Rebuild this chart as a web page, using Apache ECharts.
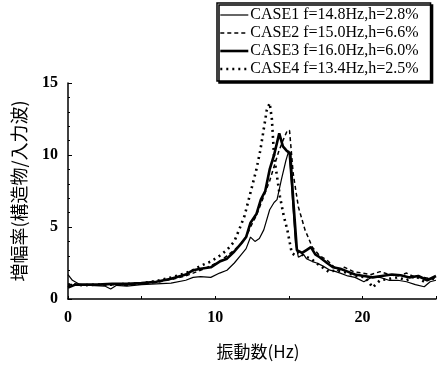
<!DOCTYPE html>
<html>
<head>
<meta charset="utf-8">
<script src="https://cdn.jsdelivr.net/npm/echarts@6/dist/echarts.min.js"></script>
<style>
  html, body { margin: 0; padding: 0; background: #fff; }
  #chart { width: 440px; height: 365px; }
</style>
</head>
<body>
<div id="chart"></div>
<script>
// 凡例
const caseNames = [
  'CASE1 f=14.8Hz,h=2.8%',
  'CASE2 f=15.0Hz,h=6.6%',
  'CASE3 f=16.0Hz,h=6.0%',
  'CASE4 f=13.4Hz,h=2.5%'
];

// 目盛
const xTickLabels = [0, 10, 20];

// CASE1 (細実線)
const case1Freq = [0, 0.3, 0.8, 1.5, 2.5, 2.9, 3.3, 4, 5, 6, 7, 8, 8.5, 9, 9.7, 10.3, 10.8, 11.3, 11.7, 12.1, 12.4, 12.7, 13.0, 13.3, 13.7, 14.0, 14.2, 14.5, 14.8, 15.0, 15.2, 15.45, 15.65, 16.0, 16.2, 16.6, 16.9, 17.3, 17.8, 18.2, 18.5, 19.0, 19.5, 20.1, 20.6, 21.2, 21.8, 22.4, 23.0, 23.6, 24.2, 24.6, 25];
const case1Amp = [1.7, 1.3, 1.0, 0.95, 0.9, 0.7, 0.95, 0.9, 1.0, 1.05, 1.1, 1.3, 1.5, 1.55, 1.5, 1.8, 2.0, 2.5, 3.0, 3.5, 4.3, 4.0, 4.2, 4.8, 6.2, 6.7, 6.9, 8.3, 9.6, 10.3, 7.6, 3.9, 2.9, 3.1, 2.8, 2.6, 2.5, 2.3, 2.0, 1.9, 1.8, 1.6, 1.5, 1.2, 1.5, 1.5, 1.3, 1.3, 1.2, 1.0, 0.85, 1.2, 1.3];

// CASE2 (破線)
const case2Freq = [0, 0.5, 1, 2, 3, 4, 5, 6, 7, 8, 8.5, 9, 9.7, 10.3, 10.8, 11.3, 11.7, 12.1, 12.4, 12.8, 13.1, 13.4, 13.7, 14.0, 14.3, 14.6, 14.9, 15.05, 15.3, 15.65, 16.1, 16.6, 17.1, 17.6, 18.3, 18.8, 19.4, 20, 20.6, 21.2, 21.8, 22.4, 23, 23.6, 24.2, 24.6, 25];
const case2Amp = [1.0, 1.0, 0.95, 0.95, 1.0, 0.95, 1.05, 1.15, 1.35, 1.6, 1.8, 2.0, 2.3, 2.6, 3.0, 3.4, 3.8, 4.3, 5.0, 5.8, 6.6, 7.4, 8.2, 9.2, 10.2, 11.0, 11.7, 11.7, 8.7, 6.4, 4.8, 3.6, 3.0, 2.7, 2.0, 2.2, 1.9, 1.8, 1.7, 1.9, 1.7, 1.6, 1.8, 1.5, 1.5, 1.4, 1.5];

// CASE3 (太実線)
const case3Freq = [0, 0.5, 1, 2, 3, 4, 5, 6, 7, 8, 8.5, 9, 9.7, 10.3, 10.8, 11.3, 11.8, 12.1, 12.4, 12.8, 13.1, 13.4, 13.7, 14.0, 14.35, 14.6, 14.85, 15.1, 15.3, 15.55, 15.9, 16.2, 16.5, 16.8, 17.1, 17.6, 18.0, 18.5, 19.0, 19.5, 20.1, 20.7, 21.3, 22.0, 22.6, 23.2, 23.8, 24.4, 25];
const case3Amp = [0.8, 1.0, 1.0, 1.0, 1.05, 1.05, 1.1, 1.2, 1.4, 1.7, 2.0, 2.1, 2.2, 2.6, 2.8, 3.3, 3.9, 4.3, 5.3, 5.9, 6.9, 7.5, 9.0, 10.0, 11.5, 10.6, 10.3, 10.1, 6.9, 3.4, 3.2, 3.4, 3.6, 3.1, 2.9, 2.5, 2.2, 2.1, 1.9, 1.7, 1.6, 1.5, 1.6, 1.7, 1.65, 1.5, 1.6, 1.3, 1.6];

// CASE4 (点線)
const case4Freq = [0, 0.5, 1, 2, 3, 4, 5, 6, 7, 8, 8.5, 9, 9.7, 10.3, 10.8, 11.3, 11.7, 12.0, 12.4, 12.8, 13.06, 13.3, 13.5, 13.7, 13.85, 14.0, 14.2, 14.4, 14.65, 14.9, 15.2, 15.4, 15.7, 16.0, 16.5, 17.0, 17.7, 18.3, 19, 19.6, 20.2, 20.7, 21.2, 21.8, 22.4, 23, 23.6, 24.2, 24.6, 25];
const case4Amp = [1.0, 1.0, 0.95, 1.0, 1.0, 1.05, 1.1, 1.25, 1.5, 1.8, 2.0, 2.3, 2.6, 3.0, 3.4, 4.0, 5.0, 5.8, 7.4, 9.0, 10.3, 11.8, 13.1, 13.6, 12.5, 9.9, 8.5, 7.1, 5.8, 4.8, 3.2, 3.05, 3.3, 3.0, 2.8, 2.4, 1.9, 2.0, 1.8, 1.6, 1.5, 0.8, 1.3, 1.4, 1.5, 1.3, 1.6, 1.2, 1.5, 1.3];

const serifFont = '"Liberation Serif", "DejaVu Serif", serif';
const cjkFont = '"Noto Sans CJK JP", sans-serif';

// 線種
const lineStyles = [
  { width: 1.2, type: 'solid' },
  { width: 1.5, type: [4, 3] },
  { width: 2.6, type: 'solid' },
  { width: 2.6, type: [2, 4] }
];

function pairs(xs, ys) {
  return xs.map((x, i) => [x, ys[i]]);
}

function makeSeries(idx, xs, ys) {
  return {
    name: caseNames[idx],
    type: 'line',
    symbol: 'none',
    smooth: false,
    data: pairs(xs, ys),
    lineStyle: Object.assign({ color: '#000' }, lineStyles[idx]),
    itemStyle: { color: '#000' }
  };
}

function initChart() {
  const chart = echarts.init(document.getElementById('chart'), null, { renderer: 'canvas' });

  const option = {
    animation: false,
    backgroundColor: '#fff',
    grid: {
      left: 68,
      right: 4,
      top: 83,
      bottom: 66
    },
    legend: {
      orient: 'vertical',
      left: 217,
      top: 3,
      data: caseNames.map((name, i) => ({
        name: name,
        lineStyle: Object.assign({ color: '#000' }, lineStyles[i])
      })),
      backgroundColor: '#fff',
      borderColor: '#000',
      borderWidth: 1.5,
      shadowColor: '#000',
      shadowBlur: 0,
      shadowOffsetX: 2,
      shadowOffsetY: 2,
      padding: [4, 12, 4, 2],
      itemGap: 2,
      itemWidth: 28,
      itemHeight: 14,
      // 記号は隠して線種だけ見せる
      itemStyle: { opacity: 0 },
      textStyle: {
        fontFamily: serifFont,
        fontSize: 16,
        color: '#000',
        padding: [0, 0, 0, -3]
      }
    },
    xAxis: {
      type: 'value',
      min: 0,
      max: 25,
      interval: 5,
      name: '振動数(Hz)',
      nameLocation: 'middle',
      nameGap: 44,
      nameTextStyle: { fontFamily: cjkFont, fontSize: 17, color: '#000', padding: [0, 0, 0, 12] },
      axisLine: { show: true, lineStyle: { color: '#000', width: 1.5 } },
      axisTick: { show: true, inside: true, length: 3, lineStyle: { color: '#000' } },
      splitLine: { show: false },
      axisLabel: {
        margin: 11,
        fontFamily: serifFont,
        fontSize: 16,
        fontWeight: 'bold',
        color: '#000',
        formatter: v => (xTickLabels.indexOf(v) >= 0 ? String(v) : '')
      }
    },
    yAxis: {
      type: 'value',
      min: 0,
      max: 15,
      interval: 5,
      name: '増幅率(構造物/入力波)',
      nameLocation: 'middle',
      nameGap: 40,
      nameTextStyle: { fontFamily: cjkFont, fontSize: 18, color: '#000' },
      axisLine: { show: true, lineStyle: { color: '#000', width: 1.5 } },
      axisTick: { show: true, inside: true, length: 4, lineStyle: { color: '#000' } },
      minorTick: { show: true, splitNumber: 5, length: 2, lineStyle: { color: '#000' } },
      splitLine: { show: false },
      axisLabel: {
        margin: 10,
        fontFamily: serifFont,
        fontSize: 16,
        fontWeight: 'bold',
        color: '#000'
      }
    },
    series: [
      makeSeries(0, case1Freq, case1Amp),
      makeSeries(1, case2Freq, case2Amp),
      makeSeries(2, case3Freq, case3Amp),
      makeSeries(3, case4Freq, case4Amp)
    ]
  };

  chart.setOption(option);
}

initChart();
</script>
</body>
</html>
